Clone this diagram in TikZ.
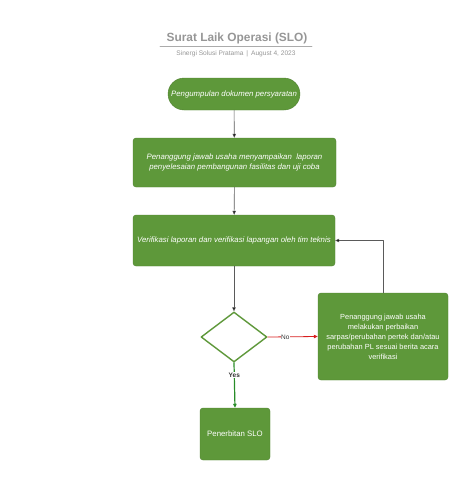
\documentclass[tikz,border=0pt]{standalone}
\usepackage{fontspec}
\setmainfont{Liberation Sans}
\usetikzlibrary{arrows.meta, shapes.geometric}

\definecolor{boxgreen}{RGB}{94,152,58}
\definecolor{titlegray}{RGB}{150,150,150}
\definecolor{linegray}{RGB}{90,90,90}
\definecolor{yesgreen}{RGB}{40,140,40}
\definecolor{nored}{RGB}{215,30,30}

\begin{document}
\begin{tikzpicture}[x=1pt,y=-1pt,line cap=round,line join=round,
  every node/.style={font=\fontsize{7.8}{10}\selectfont},
  procbox/.style={draw=boxgreen!85!black,fill=boxgreen,rounded corners=3pt,
    text=white,align=center,inner sep=2pt},
  flow/.style={draw=linegray,line width=0.6pt,-{Triangle[length=4pt,width=3.5pt,fill=black]}},
  >={Triangle[length=4pt,width=3.5pt]}]
  \useasboundingbox (0,0) rectangle (474,491);
  % ---- title -------------------------------------------------------------
  \node[font=\fontsize{11.9}{13}\selectfont\bfseries,text=titlegray] (title) at (237,38) {Surat Laik Operasi (SLO)};
  \draw[titlegray!80,line width=0.8pt] (160,46.5) -- (312,46.5);
  \node[font=\fontsize{6.6}{8}\selectfont,text=titlegray] (subtitle) at (236,54) {Sinergi Solusi Pratama \,|\, August 4, 2023};
  % ---- process steps -----------------------------------------------------
  \node[procbox,rounded corners=16pt,minimum width=132pt,minimum height=32pt,font=\fontsize{7.8}{10}\selectfont\itshape]
    (start) at (234,94) {Pengumpulan dokumen persyaratan};
  \node[procbox,minimum width=203pt,minimum height=49pt,font=\fontsize{7.8}{10}\selectfont\itshape]
    (report) at (234.5,162.5) {Penanggung jawab usaha menyampaikan\ \ laporan\\penyelesaian pembangunan fasilitas dan uji coba};
  \node[procbox,minimum width=202pt,minimum height=51pt,font=\fontsize{7.8}{10}\selectfont\itshape]
    (verify) at (234,240.5) {Verifikasi laporan dan verifikasi lapangan oleh tim teknis};
  \node[diamond,draw=boxgreen,line width=1.4pt,fill=white,minimum width=66pt,minimum height=50pt,inner sep=0pt]
    (check) at (234,337) {};
  \node[procbox,minimum width=130pt,minimum height=87pt,font=\fontsize{7.4}{10}\selectfont]
    (repair) at (383,336.5) {Penanggung jawab usaha\\melakukan perbaikan\\sarpas/perubahan pertek dan/atau\\perubahan PL sesuai berita acara\\verifikasi};
  \node[procbox,minimum width=70pt,minimum height=52pt]
    (slo) at (235,434) {Penerbitan SLO};
  % ---- connectors --------------------------------------------------------
  \draw[flow] (start) -- (report);
  \draw[flow] (report) -- (verify);
  \draw[flow] (verify) -- (check);
  \draw[draw=nored,line width=0.8pt,-{Triangle[length=4pt,width=3.5pt,fill=nored]}] (check.east) -- (repair.west)
    node[pos=0.35,fill=white,inner sep=0.5pt,text=black!80,font=\fontsize{6.5}{8}\selectfont] (nolabel) {No};
  \draw[draw=yesgreen,line width=1.2pt,-{Triangle[length=4pt,width=3.5pt,fill=yesgreen]}] (check.south) -- (slo.north)
    node[pos=0.27,fill=white,inner sep=0.5pt,text=black!80,font=\fontsize{6.5}{8}\selectfont\bfseries] (yeslabel) {Yes};
  \draw[flow] (repair.north) |- (verify.east);
\end{tikzpicture}
\end{document}
